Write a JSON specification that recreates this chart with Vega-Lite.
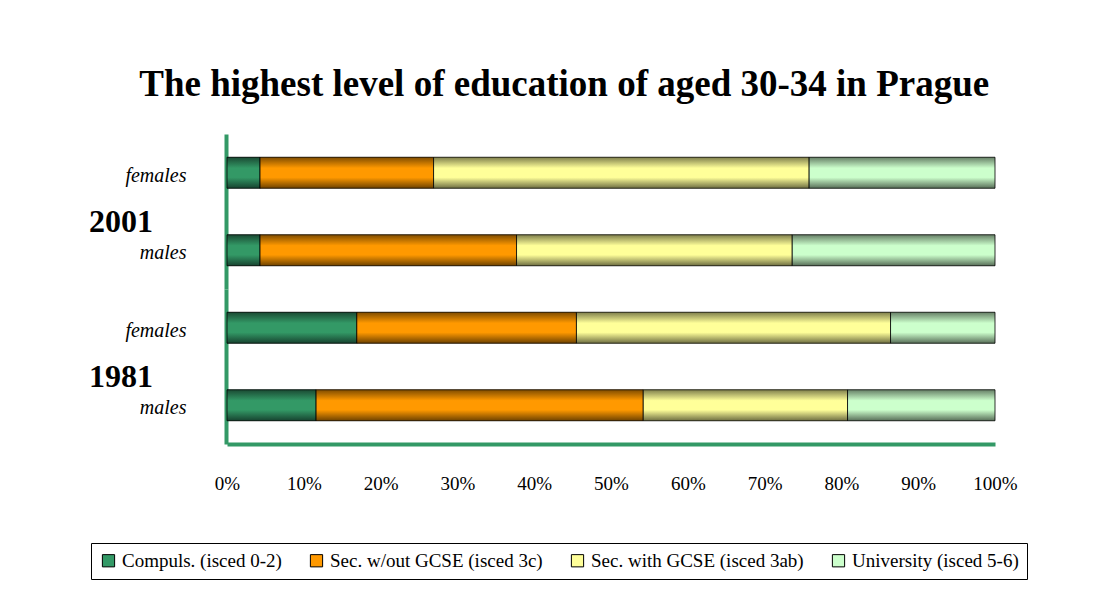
{
  "$schema": "https://vega.github.io/schema/vega-lite/v6.json",
  "background": "white",
  "padding": {"left": 88, "top": 66, "right": 10, "bottom": 10},
  "title": {
    "text": "The highest level of education of aged 30-34 in Prague",
    "font": "Liberation Serif",
    "fontSize": 37,
    "fontWeight": "bold",
    "color": "black",
    "anchor": "middle",
    "frame": "bounds",
    "dx": 6,
    "offset": 30
  },
  "data": {
    "values": [
      {"year": "2001", "gender": "females", "level": "Compuls. (isced 0-2)", "ord": 1, "pct": 4.3},
      {"year": "2001", "gender": "females", "level": "Sec. w/out GCSE (isced 3c)", "ord": 2, "pct": 22.6},
      {"year": "2001", "gender": "females", "level": "Sec. with GCSE (isced 3ab)", "ord": 3, "pct": 48.9},
      {"year": "2001", "gender": "females", "level": "University (isced 5-6)", "ord": 4, "pct": 24.2},
      {"year": "2001", "gender": "males", "level": "Compuls. (isced 0-2)", "ord": 1, "pct": 4.3},
      {"year": "2001", "gender": "males", "level": "Sec. w/out GCSE (isced 3c)", "ord": 2, "pct": 33.4},
      {"year": "2001", "gender": "males", "level": "Sec. with GCSE (isced 3ab)", "ord": 3, "pct": 35.9},
      {"year": "2001", "gender": "males", "level": "University (isced 5-6)", "ord": 4, "pct": 26.4},
      {"year": "1981", "gender": "females", "level": "Compuls. (isced 0-2)", "ord": 1, "pct": 16.9},
      {"year": "1981", "gender": "females", "level": "Sec. w/out GCSE (isced 3c)", "ord": 2, "pct": 28.6},
      {"year": "1981", "gender": "females", "level": "Sec. with GCSE (isced 3ab)", "ord": 3, "pct": 40.9},
      {"year": "1981", "gender": "females", "level": "University (isced 5-6)", "ord": 4, "pct": 13.6},
      {"year": "1981", "gender": "males", "level": "Compuls. (isced 0-2)", "ord": 1, "pct": 11.6},
      {"year": "1981", "gender": "males", "level": "Sec. w/out GCSE (isced 3c)", "ord": 2, "pct": 42.6},
      {"year": "1981", "gender": "males", "level": "Sec. with GCSE (isced 3ab)", "ord": 3, "pct": 26.6},
      {"year": "1981", "gender": "males", "level": "University (isced 5-6)", "ord": 4, "pct": 19.2}
    ]
  },
  "facet": {
    "row": {
      "field": "year",
      "type": "nominal",
      "sort": ["2001", "1981"],
      "title": null,
      "header": {
        "labelAngle": 0,
        "labelOrient": "left",
        "labelAlign": "right",
        "labelBaseline": "line-top",
        "labelLineHeight": 22,
        "labelFont": "Liberation Serif",
        "labelFontSize": 32,
        "labelFontWeight": "bold",
        "labelColor": "black",
        "labelPadding": -92
      }
    }
  },
  "spacing": 0,
  "spec": {
    "width": 768,
    "height": 155,
    "transform": [
      {"stack": "pct", "groupby": ["year", "gender"], "sort": [{"field": "ord", "order": "ascending"}], "as": ["x0", "x1"]}
    ],
    "encoding": {
      "y": {
        "field": "gender",
        "type": "nominal",
        "sort": ["females", "males"],
        "scale": {"paddingInner": 0.6, "paddingOuter": 0.3},
        "axis": {
          "title": null,
          "ticks": false,
          "domainColor": "#339966",
          "domainWidth": 4,
          "labelFont": "Liberation Serif",
          "labelFontSize": 20,
          "labelFontStyle": "italic",
          "labelColor": "black",
          "labelPadding": 40,
          "labelOffset": 3
        }
      },
      "x": {
        "field": "x0",
        "type": "quantitative",
        "scale": {"domain": [0, 100], "nice": false},
        "axis": {
          "title": null,
          "values": [0, 10, 20, 30, 40, 50, 60, 70, 80, 90, 100],
          "labelExpr": "datum.value + '%'",
          "labelFlush": false,
          "labelOverlap": false,
          "ticks": false,
          "grid": false,
          "domainColor": "#339966",
          "domainWidth": 4,
          "labelFont": "Liberation Serif",
          "labelFontSize": 19,
          "labelColor": "black",
          "labelPadding": 30
        }
      },
      "x2": {"field": "x1"}
    },
    "layer": [
      {
        "mark": {"type": "bar"},
        "encoding": {
          "color": {
            "field": "level",
            "type": "nominal",
            "sort": ["Compuls. (isced 0-2)", "Sec. w/out GCSE (isced 3c)", "Sec. with GCSE (isced 3ab)", "University (isced 5-6)"],
            "scale": {
              "domain": ["Compuls. (isced 0-2)", "Sec. w/out GCSE (isced 3c)", "Sec. with GCSE (isced 3ab)", "University (isced 5-6)"],
              "range": ["#339966", "#ff9900", "#ffff99", "#ccffcc"]
            },
            "legend": {
              "title": null,
              "orient": "none",
              "legendX": -136,
              "legendY": 409,
              "direction": "horizontal",
              "strokeColor": "black",
              "padding": 8,
              "symbolType": "square",
              "symbolSize": 150,
              "symbolStrokeColor": "black",
              "symbolStrokeWidth": 1,
              "symbolOpacity": 1,
              "labelFont": "Liberation Serif",
              "labelFontSize": 19,
              "labelColor": "black",
              "labelOffset": 4,
              "columnPadding": 25,
              "labelLimit": 400
            }
          }
        }
      },
      {
        "mark": {"type": "bar", "stroke": "black", "strokeWidth": 1, "strokeOpacity": 0.8},
        "encoding": {
          "fill": {
            "condition": [
              {"test": "datum.ord == 1", "value": {"gradient": "linear", "x1": 0, "y1": 0, "x2": 0, "y2": 1, "stops": [{"offset": 0, "color": "#1a4a33"}, {"offset": 0.35, "color": "#339966"}, {"offset": 0.65, "color": "#339966"}, {"offset": 1, "color": "#174330"}]}},
              {"test": "datum.ord == 2", "value": {"gradient": "linear", "x1": 0, "y1": 0, "x2": 0, "y2": 1, "stops": [{"offset": 0, "color": "#7f4c00"}, {"offset": 0.35, "color": "#ff9900"}, {"offset": 0.65, "color": "#ff9900"}, {"offset": 1, "color": "#6e4200"}]}},
              {"test": "datum.ord == 3", "value": {"gradient": "linear", "x1": 0, "y1": 0, "x2": 0, "y2": 1, "stops": [{"offset": 0, "color": "#7f7f4c"}, {"offset": 0.35, "color": "#ffff99"}, {"offset": 0.65, "color": "#ffff99"}, {"offset": 1, "color": "#6e6e42"}]}}
            ],
            "value": {"gradient": "linear", "x1": 0, "y1": 0, "x2": 0, "y2": 1, "stops": [{"offset": 0, "color": "#667f66"}, {"offset": 0.35, "color": "#ccffcc"}, {"offset": 0.65, "color": "#ccffcc"}, {"offset": 1, "color": "#586e58"}]}
          }
        }
      }
    ]
  },
  "config": {
    "view": {"stroke": null},
    "axis": {"grid": false}
  }
}
